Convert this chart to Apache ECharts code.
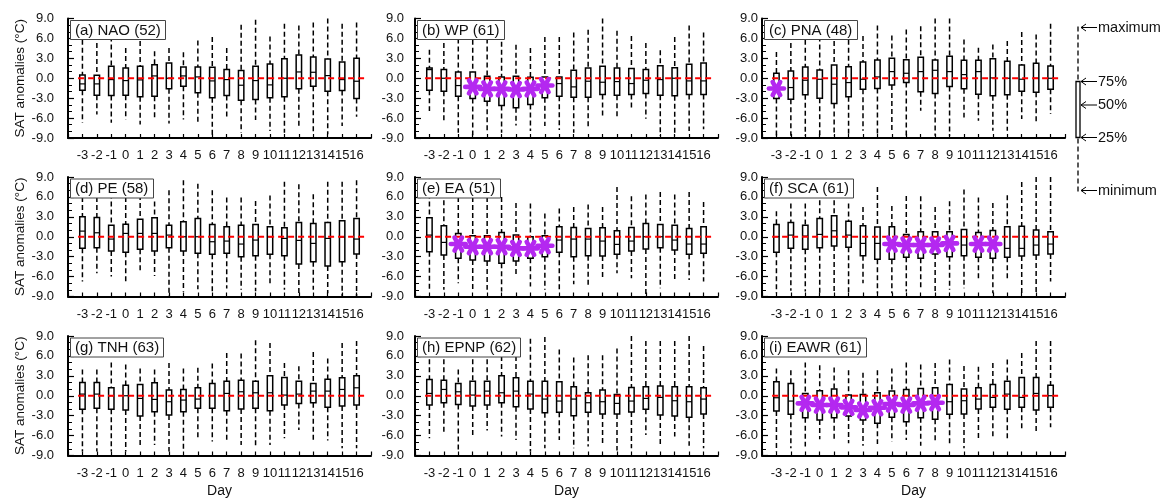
<!DOCTYPE html>
<html>
<head>
<meta charset="utf-8">
<script src="https://cdn.jsdelivr.net/npm/echarts@6/dist/echarts.min.js"></script>
<style>
  html, body { margin: 0; padding: 0; background: #fff; }
  #chart { width: 1169px; height: 502px; }
</style>
</head>
<body>
<div id="chart"></div>
<script>
// Lag days shown on every panel
const days = [-3, -2, -1, 0, 1, 2, 3, 4, 5, 6, 7, 8, 9, 10, 11, 12, 13, 14, 15, 16];
const yTicks = [-9, -6, -3, 0, 3, 6, 9];

// Per-day SAT anomaly statistics, one row per day: [minimum, 25%, median, 75%, maximum]
const NAO = [
  [-6.7, -1.8, -0.85, 0.5, 7.0], [-5.45, -2.55, -0.85, 0.45, 6.5], [-6.7, -2.6, -0.2, 1.8, 7.5],
  [-6.2, -2.55, -0.35, 1.55, 4.55], [-6.95, -2.8, -0.25, 1.8, 6.8], [-5.95, -2.7, 0.35, 2.05, 4.05],
  [-6.8, -1.6, 0.0, 2.3, 4.55], [-6.2, -1.2, 0.35, 1.7, 3.9], [-6.6, -2.2, 0.2, 1.7, 5.7],
  [-8.7, -2.95, -0.4, 1.65, 6.2], [-5.9, -2.6, -0.2, 1.3, 4.55], [-8.2, -3.3, -1.05, 1.15, 8.05],
  [-6.3, -3.2, -0.35, 1.8, 8.8], [-7.95, -2.95, -1.0, 2.15, 6.3], [-8.2, -2.8, 0.0, 2.95, 8.2],
  [-7.5, -1.6, 0.95, 3.5, 7.95], [-8.45, -1.2, 0.9, 3.2, 8.4], [-8.45, -1.95, 0.4, 2.9, 9.0],
  [-7.2, -1.85, -0.2, 2.45, 8.2], [-5.8, -3.05, -0.45, 3.0, 8.4]
];
const WP = [
  [-4.95, -1.8, 1.3, 1.55, 4.3], [-6.7, -1.95, 0.0, 1.3, 6.5], [-8.2, -2.7, -1.1, 0.95, 6.0],
  [-8.6, -3.05, -1.3, 0.95, 7.0], [-7.95, -3.45, -1.6, 0.3, 6.0], [-8.2, -4.1, -1.6, 0.2, 5.5],
  [-7.1, -4.45, -1.7, 0.3, 5.05], [-7.95, -3.95, -1.6, 0.15, 4.55], [-7.2, -2.95, -1.1, 0.2, 6.2],
  [-7.8, -2.7, -0.8, 0.2, 6.2], [-8.2, -2.85, -1.3, 1.2, 6.9], [-7.6, -2.85, -0.45, 1.55, 7.3],
  [-5.6, -2.45, -0.6, 1.8, 9.0], [-5.8, -2.55, -0.5, 1.55, 7.15], [-4.8, -2.45, -0.8, 1.45, 6.35],
  [-6.1, -2.3, -0.3, 1.3, 5.3], [-8.7, -2.55, -0.2, 1.9, 4.2], [-8.7, -2.65, 0.0, 1.6, 6.2],
  [-7.95, -2.45, -0.4, 2.1, 7.95], [-7.7, -2.45, -0.4, 2.3, 6.9]
];
const PNA = [
  [-8.65, -3.05, -1.55, 0.75, 3.95], [-8.65, -3.15, -1.4, 1.1, 6.5], [-8.65, -2.5, -0.3, 1.7, 7.0],
  [-8.65, -3.0, -0.15, 1.25, 7.5], [-8.65, -3.8, -0.9, 2.0, 6.8], [-8.65, -2.8, -0.65, 1.75, 7.0],
  [-7.9, -1.65, -0.15, 2.45, 6.35], [-8.65, -1.55, 0.2, 2.75, 7.95], [-8.05, -1.0, 1.0, 3.0, 6.45],
  [-8.65, -0.65, 0.75, 2.8, 7.35], [-4.9, -2.05, 1.0, 3.15, 7.85], [-8.65, -2.3, 1.2, 2.75, 9.0],
  [-8.65, -1.25, 1.0, 3.3, 9.0], [-5.9, -1.6, 0.55, 2.7, 5.85], [-6.4, -2.4, 1.0, 2.7, 4.6],
  [-7.9, -2.65, 0.05, 2.95, 5.1], [-7.9, -2.5, 0.0, 2.55, 5.6], [-6.15, -1.95, -0.15, 2.0, 6.95],
  [-6.9, -2.1, 0.0, 2.25, 6.6], [-5.4, -1.65, 0.0, 1.85, 8.2]
];
const PE = [
  [-6.75, -1.75, 0.85, 3.0, 6.0], [-5.5, -1.65, 0.6, 2.9, 6.0], [-6.0, -2.15, -0.35, 1.75, 6.5],
  [-6.75, -2.35, 0.5, 1.9, 6.0], [-5.5, -1.9, 0.5, 2.65, 8.7], [-5.9, -2.15, 0.5, 2.85, 5.3],
  [-9.0, -1.65, 0.25, 1.75, 7.0], [-8.3, -2.15, 0.0, 2.25, 8.5], [-7.9, -2.5, 0.0, 2.75, 8.0],
  [-8.3, -2.65, -0.75, 1.85, 7.0], [-7.8, -2.5, -0.65, 1.5, 5.9], [-8.0, -3.0, -1.1, 1.75, 5.9],
  [-8.2, -2.85, -0.5, 1.85, 5.4], [-7.4, -2.65, 0.0, 1.5, 6.2], [-8.0, -2.85, -0.25, 1.35, 8.3],
  [-9.0, -4.1, -0.55, 2.15, 7.9], [-8.0, -3.75, -1.0, 2.0, 6.4], [-8.5, -4.4, -0.25, 2.15, 8.3],
  [-9.0, -3.75, -0.05, 2.4, 8.3], [-9.0, -2.6, -0.35, 2.75, 8.5]
];
const EA = [
  [-7.85, -2.25, 0.25, 2.85, 6.5], [-8.0, -2.75, -0.85, 1.65, 5.5], [-7.0, -3.25, -1.1, 0.5, 6.0],
  [-8.0, -3.5, -1.5, 0.15, 6.0], [-8.0, -3.65, -1.5, 0.15, 6.0], [-8.25, -4.0, -1.5, 0.65, 6.0],
  [-5.75, -3.65, -1.75, 0.25, 5.1], [-7.5, -3.25, -1.75, 0.0, 5.0], [-8.0, -3.0, -1.35, 0.15, 3.5],
  [-8.25, -2.35, -0.5, 1.5, 4.25], [-7.15, -3.0, -0.35, 1.4, 4.5], [-7.25, -2.85, -0.35, 1.25, 4.85],
  [-6.25, -2.9, -0.65, 1.35, 4.5], [-5.5, -2.65, -1.15, 0.9, 7.5], [-6.25, -2.15, -0.65, 1.4, 6.1],
  [-9.0, -1.85, 0.0, 2.0, 6.35], [-7.75, -1.65, 0.0, 1.85, 6.75], [-6.75, -2.0, -0.5, 1.75, 6.35],
  [-6.5, -2.65, -1.1, 1.25, 6.75], [-6.75, -2.5, -1.1, 1.5, 5.25]
];
const SCA = [
  [-8.5, -2.35, 0.0, 1.85, 3.85], [-8.15, -1.75, 0.25, 2.15, 5.0], [-8.25, -1.9, 0.1, 1.75, 5.0],
  [-8.5, -1.65, 0.35, 2.75, 5.5], [-8.5, -1.4, 0.9, 3.15, 5.5], [-8.35, -1.6, 0.25, 2.35, 5.0],
  [-7.0, -2.85, -1.0, 1.65, 4.5], [-8.5, -3.4, -1.0, 1.45, 7.5], [-8.5, -3.4, -1.1, 1.5, 4.65],
  [-8.25, -3.1, -1.25, 0.35, 6.15], [-7.85, -3.25, -1.25, 0.75, 6.1], [-8.25, -2.6, -1.25, 0.75, 4.5],
  [-8.0, -3.0, -1.0, 0.75, 5.35], [-7.75, -2.85, -1.25, 1.1, 7.1], [-6.25, -3.1, -1.1, 0.65, 5.9],
  [-8.5, -3.25, -1.1, 0.95, 5.1], [-6.5, -3.1, -1.75, 1.5, 6.25], [-8.5, -2.9, -1.75, 1.6, 8.25],
  [-8.5, -2.75, -1.25, 1.0, 9.0], [-6.75, -2.6, -1.1, 0.75, 9.0]
];
const TNH = [
  [-8.4, -2.05, 0.25, 2.0, 3.95], [-8.4, -1.9, 0.25, 2.0, 3.95], [-8.4, -2.05, 0.0, 1.2, 5.0],
  [-8.4, -2.15, 0.0, 1.6, 4.7], [-7.4, -3.05, -0.4, 1.7, 4.1], [-7.4, -2.4, -0.55, 1.95, 3.95],
  [-8.4, -2.9, -0.9, 0.85, 4.95], [-8.4, -2.4, -0.65, 0.95, 4.1], [-6.4, -1.9, -0.5, 1.2, 4.2],
  [-6.9, -1.9, 0.0, 1.85, 4.85], [-6.75, -2.25, 0.35, 2.2, 6.45], [-7.4, -2.0, 0.6, 2.35, 6.35],
  [-7.9, -1.9, 0.45, 2.2, 8.35], [-7.4, -2.25, 0.45, 3.0, 7.95], [-6.4, -1.4, 0.1, 2.75, 4.95],
  [-5.15, -1.15, 0.25, 2.2, 4.45], [-6.75, -1.05, 0.7, 1.85, 6.6], [-6.75, -1.75, 0.7, 2.5, 5.6],
  [-7.9, -1.55, 0.95, 2.7, 7.95], [-7.9, -1.4, 1.2, 3.0, 8.25]
];
const EPNP = [
  [-6.4, -1.4, 0.35, 2.45, 5.5], [-5.65, -1.05, 0.95, 2.35, 5.5], [-8.4, -1.3, 0.6, 1.85, 3.95],
  [-5.9, -1.55, 0.1, 2.2, 5.5], [-5.25, -1.4, 0.7, 2.2, 5.5], [-6.15, -1.05, 0.45, 3.0, 6.0],
  [-6.65, -1.65, 0.7, 2.7, 6.0], [-8.4, -2.0, 0.25, 2.2, 8.6], [-7.9, -2.55, -0.5, 2.2, 8.85],
  [-6.65, -2.5, -0.8, 2.1, 6.95], [-7.9, -3.0, -0.5, 1.35, 5.75], [-7.65, -2.5, -1.05, 0.45, 6.1],
  [-7.55, -2.75, -0.9, 0.85, 6.1], [-8.25, -2.75, -1.15, 0.2, 7.1], [-7.9, -2.45, -0.8, 1.25, 9.0],
  [-5.9, -2.05, -0.4, 1.35, 8.25], [-7.4, -2.9, -0.25, 1.45, 8.25], [-6.15, -3.05, -0.75, 1.35, 8.25],
  [-7.55, -3.25, -0.9, 1.35, 9.0], [-7.9, -2.75, -0.5, 1.2, 7.5]
];
const EAWR = [
  [-8.4, -2.3, -0.3, 2.1, 4.1], [-7.9, -2.8, -0.8, 1.85, 3.85], [-7.65, -3.3, -1.15, 0.35, 5.0],
  [-6.55, -3.65, -1.4, 0.75, 4.6], [-6.9, -3.3, -1.4, 1.0, 4.25], [-7.15, -3.05, -1.75, 0.1, 3.85],
  [-7.55, -3.65, -2.15, 0.2, 3.45], [-7.25, -4.15, -1.8, 0.45, 3.85], [-6.9, -3.25, -1.25, 0.7, 4.1],
  [-6.65, -3.9, -1.4, 0.95, 5.0], [-7.55, -3.3, -1.15, 1.1, 4.7], [-6.9, -3.55, -1.05, 1.2, 4.95],
  [-7.4, -2.8, -0.9, 1.7, 5.45], [-7.9, -2.75, -0.75, 1.0, 4.5], [-6.4, -2.0, -0.5, 1.2, 4.35],
  [-6.4, -1.75, -0.25, 1.7, 4.95], [-6.4, -2.05, 0.25, 2.2, 5.45], [-5.15, -1.75, -0.25, 2.75, 6.45],
  [-5.55, -2.15, 0.35, 2.75, 8.25], [-4.75, -1.75, 0.0, 1.6, 8.25]
];

// Days whose median anomaly is flagged as significant (purple asterisks)
const sigWP = [0, 1, 2, 3, 4, 5];
const sigPNA = [-3];
const sigEA = [-1, 0, 1, 2, 3, 4, 5];
const sigSCA = [5, 6, 7, 8, 9, 11, 12];
const sigEAWR = [-1, 0, 1, 2, 3, 4, 5, 6, 7, 8];

// Panel labels, in reading order
const panelLabels = ['(a) NAO (52)', '(b) WP (61)', '(c) PNA (48)', '(d) PE (58)', '(e) EA (51)',
  '(f) SCA (61)', '(g) TNH (63)', '(h) EPNP (62)', '(i) EAWR (61)'];

// Zero reference line extent in days
const zeroSpan = [-3.3, 16.7];

const panels = [
  { label: panelLabels[0], stats: NAO, sig: [] },
  { label: panelLabels[1], stats: WP, sig: sigWP },
  { label: panelLabels[2], stats: PNA, sig: sigPNA },
  { label: panelLabels[3], stats: PE, sig: [] },
  { label: panelLabels[4], stats: EA, sig: sigEA },
  { label: panelLabels[5], stats: SCA, sig: sigSCA },
  { label: panelLabels[6], stats: TNH, sig: [] },
  { label: panelLabels[7], stats: EPNP, sig: [] },
  { label: panelLabels[8], stats: EAWR, sig: sigEAWR }
];

const FONT = "'Liberation Sans', Arial, Helvetica, sans-serif";
const colLeft = [68, 415, 762];
const rowTop = [18.5, 177, 336];
const gridW = 303, gridH = 119.5;
const yLabelMargin = [14, 11, 4];
const PURPLE = '#b428f0';

function renderBox(params, api) {
  const d = api.value(0);
  const lo = api.coord([d, api.value(1)]);
  const q1 = api.coord([d, api.value(2)]);
  const md = api.coord([d, api.value(3)]);
  const q3 = api.coord([d, api.value(4)]);
  const hi = api.coord([d, api.value(5)]);
  const hw = 2.7;
  const x = q1[0];
  const whisker = { stroke: '#000', lineWidth: 1.5, lineDash: [5, 3] };
  return {
    type: 'group',
    children: [
      { type: 'line', shape: { x1: x, y1: hi[1], x2: x, y2: q3[1] }, style: whisker },
      { type: 'line', shape: { x1: x, y1: q1[1], x2: x, y2: lo[1] }, style: whisker },
      { type: 'rect', shape: { x: x - hw, y: q3[1], width: 2 * hw, height: q1[1] - q3[1] },
        style: { fill: '#fff', stroke: '#000', lineWidth: 1.5 } },
      { type: 'line', shape: { x1: x - hw, y1: md[1], x2: x + hw, y2: md[1] },
        style: { stroke: '#000', lineWidth: 1.2 } }
    ]
  };
}

// Bold six-armed asterisk centred on the median
function renderStar(params, api) {
  const c = api.coord([api.value(0), api.value(1)]);
  const r = 7.5;
  const arms = [0, 60, 120].map(function (deg) {
    const a = deg * Math.PI / 180;
    return {
      type: 'line',
      shape: { x1: c[0] - r * Math.cos(a), y1: c[1] - r * Math.sin(a),
               x2: c[0] + r * Math.cos(a), y2: c[1] + r * Math.sin(a) },
      style: { stroke: PURPLE, lineWidth: 4.6, lineCap: 'round' }
    };
  });
  return { type: 'group', children: arms };
}

const grids = [], xAxes = [], yAxes = [], series = [], titles = [];

panels.forEach(function (p, i) {
  const row = Math.floor(i / 3), col = i % 3;
  grids.push({ left: colLeft[col], top: rowTop[row], width: gridW, height: gridH });

  xAxes.push({
    gridIndex: i, type: 'value', min: -4, max: 17, interval: 1,
    name: row === 2 ? 'Day' : '', nameLocation: 'middle', nameGap: 29,
    nameTextStyle: { fontFamily: FONT, fontSize: 14, color: '#111' },
    axisLine: { onZero: false, lineStyle: { color: '#000', width: 2 } },
    axisTick: { inside: true, length: 4, lineStyle: { color: '#000', width: 1.2 } },
    splitLine: { show: false },
    axisLabel: {
      margin: 11, fontFamily: FONT, fontSize: 13, color: '#111',
      formatter: function (v) { return days.indexOf(v) >= 0 ? String(v) : ''; }
    }
  });

  yAxes.push({
    gridIndex: i, type: 'value', min: yTicks[0], max: yTicks[yTicks.length - 1], interval: 3,
    name: col === 0 ? 'SAT anomalies (\u00B0C)' : '', nameLocation: 'middle', nameGap: 35,
    nameTextStyle: { fontFamily: FONT, fontSize: 13.5, color: '#111' },
    axisLine: { show: true, onZero: false, lineStyle: { color: '#000', width: 2 } },
    axisTick: { inside: true, length: 6, lineStyle: { color: '#000', width: 1.2 } },
    minorTick: { show: true, splitNumber: 3, length: 4, lineStyle: { color: '#000', width: 1 } },
    splitLine: { show: false },
    axisLabel: {
      margin: yLabelMargin[col], fontFamily: FONT, fontSize: 13, color: '#111',
      formatter: function (v) { return v.toFixed(1); }
    }
  });

  series.push({
    type: 'custom', xAxisIndex: i, yAxisIndex: i, z: 2,
    renderItem: renderBox,
    encode: { x: 0, y: [1, 2, 3, 4, 5] },
    data: days.map(function (d, k) { return [d].concat(p.stats[k]); })
  });

  series.push({
    type: 'line', xAxisIndex: i, yAxisIndex: i, z: 3, symbol: 'none', silent: true,
    lineStyle: { color: '#ff0000', width: 2, type: [6, 4] },
    data: [[zeroSpan[0], 0], [zeroSpan[1], 0]]
  });

  if (p.sig.length) {
    series.push({
      type: 'custom', xAxisIndex: i, yAxisIndex: i, z: 4,
      renderItem: renderStar,
      encode: { x: 0, y: 1 },
      data: p.sig.map(function (d) { return [d, p.stats[days.indexOf(d)][2]]; })
    });
  }

  titles.push({
    text: p.label,
    left: colLeft[col] + 2, top: rowTop[row] + 1.5,
    padding: [2, 5, 1, 5],
    backgroundColor: '#fff', borderColor: '#444', borderWidth: 1,
    textStyle: { fontFamily: FONT, fontSize: 15, fontWeight: 'normal', color: '#111', lineHeight: 17 }
  });
});

// Box-and-whisker key on the right
const keyX = 1078;
const keyLevels = [
  { y: 27.5, text: 'maximum' },
  { y: 81.5, text: '75%' },
  { y: 105, text: '50%' },
  { y: 137.5, text: '25%' },
  { y: 190.5, text: 'minimum' }
];
const keyGraphics = [
  { type: 'line', shape: { x1: keyX, y1: 26.5, x2: keyX, y2: 192 },
    style: { stroke: '#000', lineWidth: 1.3, lineDash: [5, 3] } },
  { type: 'rect', shape: { x: keyX - 2, y: 81.5, width: 4, height: 56 },
    style: { fill: '#fff', stroke: '#000', lineWidth: 1.3 } }
];
keyLevels.forEach(function (k) {
  keyGraphics.push({ type: 'line', shape: { x1: keyX + 3, y1: k.y, x2: keyX + 19, y2: k.y },
    style: { stroke: '#000', lineWidth: 1 } });
  keyGraphics.push({ type: 'polyline', shape: { points: [[keyX + 8, k.y - 3.5], [keyX + 3, k.y], [keyX + 8, k.y + 3.5]] },
    style: { stroke: '#000', lineWidth: 1, fill: null } });
  keyGraphics.push({ type: 'text', x: keyX + 20, y: k.y,
    style: { text: k.text, fontFamily: FONT, fontSize: 14.5, fill: '#111', verticalAlign: 'middle', align: 'left' } });
});

const chart = echarts.init(document.getElementById('chart'), null, { renderer: 'canvas' });
chart.setOption({
  animation: false,
  backgroundColor: '#fff',
  title: titles,
  grid: grids,
  xAxis: xAxes,
  yAxis: yAxes,
  series: series,
  graphic: keyGraphics
});
</script>
</body>
</html>
